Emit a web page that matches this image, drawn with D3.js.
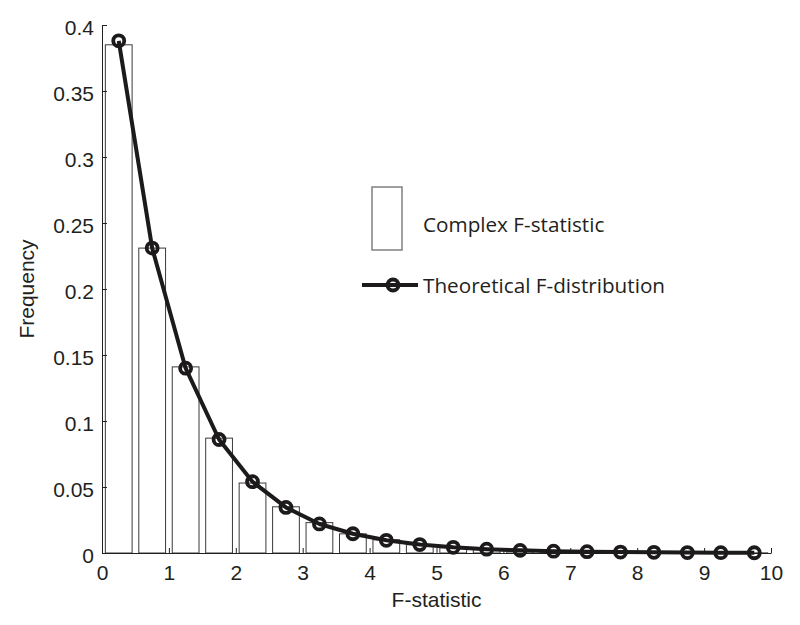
<!DOCTYPE html>
<html>
<head>
<meta charset="utf-8">
<script src="https://cdn.jsdelivr.net/npm/d3@7"></script>
<style>
  body { margin: 0; background: #fff; }
  svg { display: block; }
</style>
</head>
<body>
<div id="chart"></div>
<script>
// bin centres of the histogram (F-statistic)
const binCenters = [0.25, 0.75, 1.25, 1.75, 2.25, 2.75, 3.25, 3.75, 4.25, 4.75,
                    5.25, 5.75, 6.25, 6.75, 7.25, 7.75, 8.25, 8.75, 9.25, 9.75];
// observed frequencies (Complex F-statistic)
const complexFreq = [0.385, 0.231, 0.141, 0.087, 0.053, 0.035, 0.023, 0.0145, 0.010, 0.0063,
                     0.004, 0.0025, 0.0017, 0.0011, 0.0007, 0.0005, 0.0003, 0.0002, 0.00015, 0.0001];
// theoretical F-distribution
const theoryFreq = [0.388, 0.231, 0.140, 0.086, 0.054, 0.0345, 0.022, 0.0146, 0.0096, 0.0064,
                    0.0043, 0.0029, 0.002, 0.0014, 0.001, 0.0007, 0.0005, 0.00035, 0.00025, 0.00018];
const xTicks = [0, 1, 2, 3, 4, 5, 6, 7, 8, 9, 10];
const yTicks = [0, 0.05, 0.1, 0.15, 0.2, 0.25, 0.3, 0.35, 0.4];
const seriesNames = ["Complex F-statistic", "Theoretical F-distribution"];

const W = 800, H = 625;
const margin = { top: 25, right: 29, bottom: 72, left: 102 };
const width = W - margin.left - margin.right;
const height = H - margin.top - margin.bottom;
const binWidth = 0.5, barFrac = 0.8;
const axisFont = "'Liberation Sans', Arial, sans-serif";

const svg = d3.select("#chart").append("svg")
  .attr("width", W)
  .attr("height", H);

const g = svg.append("g")
  .attr("transform", `translate(${margin.left},${margin.top})`);

const x = d3.scaleLinear().domain([0, 10]).range([0, width]);
const y = d3.scaleLinear().domain([0, 0.4]).range([height, 0]);

// histogram bars
g.selectAll(".bar")
  .data(binCenters)
  .enter().append("rect")
  .attr("class", "bar")
  .attr("x", d => x(d - binWidth * barFrac / 2))
  .attr("width", x(binWidth * barFrac) - x(0))
  .attr("y", (d, i) => y(complexFreq[i]))
  .attr("height", (d, i) => y(0) - y(complexFreq[i]))
  .style("fill", "#fff")
  .style("stroke", "#3a3a3a")
  .style("stroke-width", 1);

// axes (ticks pointing inward, matlab style)
const xAxis = g.append("g")
  .attr("transform", `translate(0,${height})`)
  .call(d3.axisBottom(x).tickValues(xTicks).tickSizeInner(-5).tickSizeOuter(0).tickPadding(12).tickFormat(d3.format("~g")));
const yAxis = g.append("g")
  .call(d3.axisLeft(y).tickValues(yTicks).tickSizeInner(-5).tickSizeOuter(0).tickPadding(8).tickFormat(d3.format("~g")));
yAxis.selectAll("text").attr("dy", "0.45em");

[xAxis, yAxis].forEach(a => {
  a.selectAll("text")
    .style("font-family", axisFont)
    .style("font-size", "21px")
    .attr("fill", "#231f20");
  a.selectAll("line, path").attr("stroke", "#231f20");
});

// theoretical curve
const pts = binCenters.map((c, i) => [c, theoryFreq[i]]);
const line = d3.line()
  .x(d => x(d[0]))
  .y(d => y(d[1]));

g.append("path")
  .datum(pts)
  .attr("d", line)
  .style("fill", "none")
  .style("stroke", "#1c1a1b")
  .style("stroke-width", 4)
  .style("stroke-linejoin", "round");

g.selectAll(".marker")
  .data(pts)
  .enter().append("circle")
  .attr("class", "marker")
  .attr("cx", d => x(d[0]))
  .attr("cy", d => y(d[1]))
  .attr("r", 5.5)
  .style("fill", "none")
  .style("stroke", "#1c1a1b")
  .style("stroke-width", 3.8);

// axis titles
g.append("text")
  .attr("x", width / 2)
  .attr("y", height + 54)
  .attr("text-anchor", "middle")
  .style("font-family", axisFont)
  .style("font-size", "21px")
  .attr("fill", "#231f20")
  .text("F-statistic");

g.append("text")
  .attr("transform", `translate(${-68},${height / 2}) rotate(-90)`)
  .attr("text-anchor", "middle")
  .style("font-family", axisFont)
  .style("font-size", "21px")
  .attr("fill", "#231f20")
  .text("Frequency");

// legend
const legend = svg.append("g").attr("transform", "translate(362,187)");
legend.append("rect")
  .attr("x", 10).attr("y", 0)
  .attr("width", 30).attr("height", 63)
  .style("fill", "#fff")
  .style("stroke", "#808080")
  .style("stroke-width", 1.5);
legend.append("line")
  .attr("x1", 0).attr("x2", 56)
  .attr("y1", 98).attr("y2", 98)
  .style("stroke", "#1c1a1b")
  .style("stroke-width", 4);
legend.append("circle")
  .attr("cx", 31).attr("cy", 98).attr("r", 5.5)
  .style("fill", "none")
  .style("stroke", "#1c1a1b")
  .style("stroke-width", 3.8);
legend.selectAll(".legtext")
  .data(seriesNames)
  .enter().append("text")
  .attr("class", "legtext")
  .attr("x", 61)
  .attr("y", (d, i) => i === 0 ? 45 : 106)
  .style("font-family", "'Open Sans', sans-serif")
  .style("font-size", "20.7px")
  .attr("fill", "#231f20")
  .text(d => d);
</script>
</body>
</html>
